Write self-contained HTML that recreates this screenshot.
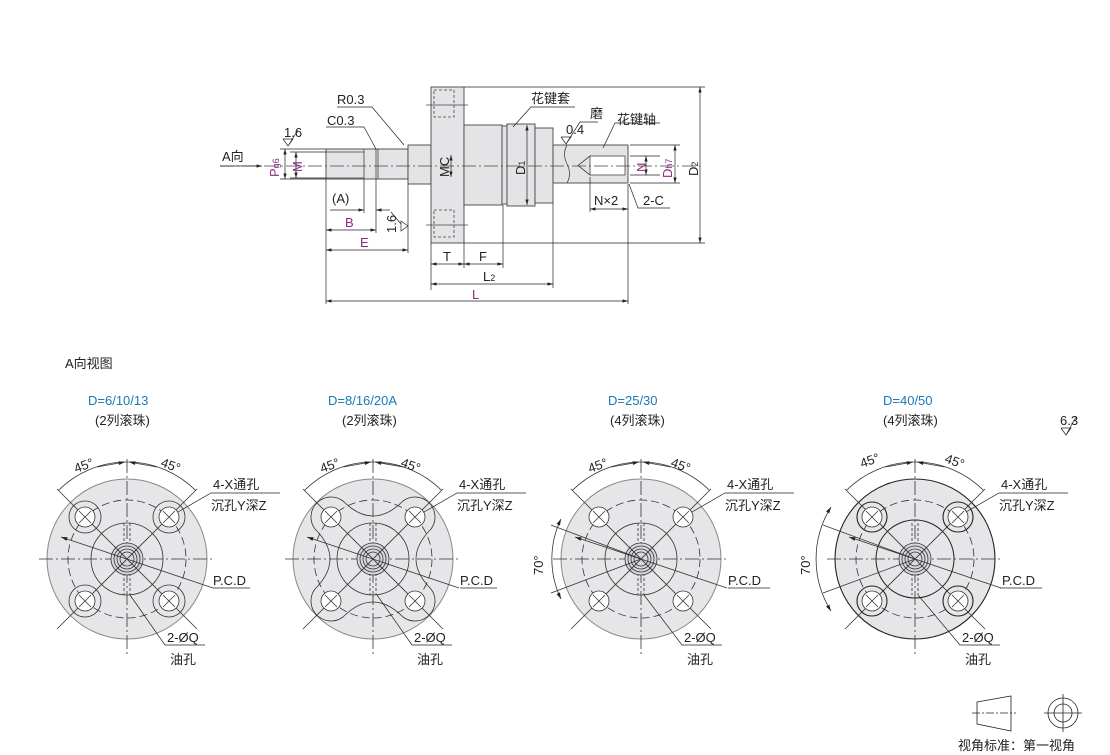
<!DOCTYPE html>
<html><head><meta charset="utf-8"><style>
html,body{margin:0;padding:0;background:#fff}
svg{display:block}
text{font-family:"Liberation Sans","Noto Sans CJK SC",sans-serif;fill:#222;font-size:13px}
.p{fill:#8b2a7f}.b{fill:#1a78b8}
</style></head><body>
<svg width="1110" height="755" viewBox="0 0 1110 755" xmlns="http://www.w3.org/2000/svg">
<defs>
<marker id="ar" viewBox="0 0 10 6" refX="10" refY="3" markerWidth="8" markerHeight="5" orient="auto-start-reverse"><path d="M0,0L10,3L0,6z" fill="#222"/></marker>
<g id="base">
<circle r="80" fill="#e6e6e9" stroke="#888" stroke-width="1"/>
</g>
<g id="common" stroke="#333" stroke-width="0.8" fill="none">
<line x1="-88" y1="0" x2="88" y2="0" stroke-dasharray="14,3,2,3"/>
<line x1="0" y1="-100" x2="0" y2="95" stroke-dasharray="14,3,2,3"/>
<circle r="59" stroke-dasharray="8,4"/>
<line x1="-3" y1="-36" x2="-3" y2="36" stroke-dasharray="3,2"/>
<line x1="3" y1="-36" x2="3" y2="36" stroke-dasharray="3,2"/>
<circle r="16" fill="#d8d8dc"/><circle r="13"/><circle r="10"/><circle r="7"/>
<line x1="-70" y1="-70" x2="70" y2="70"/><line x1="70" y1="-70" x2="-70" y2="70"/>
<path d="M-68.6,-68.6 A97,97 0 0 1 68.6,-68.6"/>
<line x1="-2" y1="-97" x2="-30" y2="-92" marker-start="url(#ar)"/>
<line x1="2" y1="-97" x2="30" y2="-92" marker-start="url(#ar)"/>
<line x1="-66" y1="-22" x2="-30" y2="-10" marker-start="url(#ar)"/>
<line x1="-30" y1="-10" x2="86" y2="29"/>
</g>
<g id="h" stroke="#333" stroke-width="0.8"><circle r="16" fill="none"/><circle r="10" fill="#fff"/><line x1="-6" y1="-6" x2="6" y2="6"/><line x1="6" y1="-6" x2="-6" y2="6"/></g>
<g id="h2" stroke="#333" stroke-width="0.8"><circle r="10" fill="#fff"/><line x1="-6" y1="-6" x2="6" y2="6"/><line x1="6" y1="-6" x2="-6" y2="6"/></g>
</defs>

<!-- TOP DRAWING -->
<g stroke="#444" stroke-width="0.9" fill="#e4e4e6">
<rect x="326" y="149" width="82" height="30"/>
<rect x="408" y="145" width="23" height="39"/>
<rect x="431" y="87" width="33" height="156"/>
<rect x="464" y="125" width="38" height="80"/>
<rect x="502" y="126" width="5" height="78"/>
<rect x="507" y="124" width="28" height="82"/>
<rect x="535" y="128" width="18" height="75"/>
<rect x="553" y="145" width="75" height="38"/>
</g>
<g stroke="#444" stroke-width="0.8" fill="none">
<line x1="326" y1="152" x2="364" y2="152"/><line x1="326" y1="178" x2="364" y2="178"/>
<line x1="364" y1="149" x2="364" y2="179"/><line x1="376" y1="149" x2="376" y2="179"/><line x1="378" y1="149" x2="378" y2="179"/>
<path d="M567,145 q-5,9 0,19 q5,10 0,19" fill="#e4e4e6"/>
<rect x="590" y="156" width="35" height="19" fill="#fff"/>
<path d="M590,156 L578,165.5 L590,175"/>
<path d="M434,90h20v27h-20z M434,210h20v27h-20z" stroke-dasharray="3,2"/>
<line x1="426" y1="105" x2="468" y2="105"/><line x1="426" y1="225" x2="468" y2="225"/>
<line x1="220" y1="166" x2="700" y2="166" stroke-dasharray="14,3,2,3"/>
</g>
<g stroke="#222" stroke-width="0.7" fill="none">
<line x1="220" y1="166" x2="262" y2="166" marker-end="url(#ar)"/>
<line x1="280" y1="149" x2="326" y2="149"/><line x1="280" y1="179" x2="326" y2="179"/>
<line x1="285" y1="149" x2="285" y2="179" marker-start="url(#ar)" marker-end="url(#ar)"/>
<line x1="296" y1="152" x2="296" y2="178" marker-start="url(#ar)" marker-end="url(#ar)"/>
<line x1="290" y1="152" x2="326" y2="152"/><line x1="290" y1="178" x2="326" y2="178"/>
<path d="M283,139 h10 l-5,7 l-5,-7 M288,146 l10,-16"/>
<path d="M326,127 h38 l12,22" /><path d="M337,107 h35 l32,38"/>
<line x1="451" y1="155" x2="451" y2="177" marker-start="url(#ar)" marker-end="url(#ar)"/>
<line x1="527" y1="125" x2="527" y2="205" marker-start="url(#ar)" marker-end="url(#ar)"/>
<path d="M575,107 h-44 l-18,20"/>
<path d="M561,137 h10 l-5,7 l-5,-7 M566,144 l14,-22 h18"/>
<path d="M660,123 h-45 l-12,25"/>
<line x1="630" y1="156" x2="660" y2="156"/><line x1="630" y1="175" x2="660" y2="175"/>
<line x1="646" y1="156" x2="646" y2="175" marker-start="url(#ar)" marker-end="url(#ar)"/>
<line x1="630" y1="145" x2="680" y2="145"/><line x1="630" y1="183" x2="680" y2="183"/>
<line x1="675" y1="145" x2="675" y2="183" marker-start="url(#ar)" marker-end="url(#ar)"/>
<line x1="464" y1="87" x2="705" y2="87"/><line x1="464" y1="243" x2="705" y2="243"/>
<line x1="700" y1="87" x2="700" y2="243" marker-start="url(#ar)" marker-end="url(#ar)"/>
<line x1="590" y1="177" x2="590" y2="212"/><line x1="628" y1="184" x2="628" y2="304"/>
<line x1="590" y1="209" x2="628" y2="209" marker-start="url(#ar)" marker-end="url(#ar)"/>
<path d="M670,208 h-32 l-9,-24"/>
<line x1="326" y1="179" x2="326" y2="304"/><line x1="364" y1="179" x2="364" y2="213"/>
<line x1="376" y1="179" x2="376" y2="233"/><line x1="408" y1="184" x2="408" y2="253"/>
<line x1="431" y1="243" x2="431" y2="290"/><line x1="464" y1="243" x2="464" y2="268"/>
<line x1="503" y1="205" x2="503" y2="268"/><line x1="553" y1="203" x2="553" y2="288"/>
<line x1="330" y1="210" x2="364" y2="210" marker-end="url(#ar)"/><line x1="376" y1="210" x2="390" y2="210" marker-start="url(#ar)"/>
<line x1="326" y1="230" x2="376" y2="230" marker-start="url(#ar)" marker-end="url(#ar)"/>
<path d="M408,226 l-7,-5 v10 z M401,224 l-10,-12"/>
<line x1="326" y1="250" x2="408" y2="250" marker-start="url(#ar)" marker-end="url(#ar)"/>
<line x1="431" y1="264" x2="464" y2="264" marker-start="url(#ar)" marker-end="url(#ar)"/>
<line x1="464" y1="264" x2="503" y2="264" marker-start="url(#ar)" marker-end="url(#ar)"/>
<line x1="431" y1="284" x2="553" y2="284" marker-start="url(#ar)" marker-end="url(#ar)"/>
<line x1="326" y1="301" x2="628" y2="301" marker-start="url(#ar)" marker-end="url(#ar)"/>
</g>
<text x="222" y="161">A向</text>
<text class="p" transform="translate(279,177) rotate(-90)">P<tspan font-size="9" dy="-0">g6</tspan></text>
<text class="p" transform="translate(302,172) rotate(-90)">M</text>
<text x="284" y="137" font-size="9">1.6</text>
<text x="327" y="125">C0.3</text>
<text x="337" y="104">R0.3</text>
<text transform="translate(449,177) rotate(-90)" font-size="12">MC</text>
<text transform="translate(525,175) rotate(-90)">D<tspan font-size="9">1</tspan></text>
<text x="531" y="103">花键套</text>
<text x="566" y="134" font-size="9">0.4</text>
<text x="590" y="118">磨</text>
<text x="617" y="124">花键轴</text>
<text class="p" transform="translate(646,172) rotate(-90)">N</text>
<text class="p" transform="translate(672,178) rotate(-90)">D<tspan font-size="9" fill="#8b2a7f">h7</tspan></text>
<text transform="translate(698,176) rotate(-90)">D<tspan font-size="9">2</tspan></text>
<text x="594" y="205">N×2</text>
<text x="643" y="205">2-C</text>
<text x="332" y="203">(A)</text>
<text class="p" x="345" y="227">B</text>
<text font-size="9" transform="translate(396,233) rotate(-90)">1.6</text>
<text class="p" x="360" y="247">E</text>
<text x="443" y="261">T</text>
<text x="479" y="261">F</text>
<text x="483" y="281">L<tspan font-size="9">2</tspan></text>
<text class="p" x="472" y="299">L</text>

<text x="65" y="368">A向视图</text>

<!-- VIEW 1 -->
<g transform="translate(127,559)">
<use href="#base"/><circle r="36" fill="none" stroke="#333" stroke-width="0.8"/><use href="#common"/>
<use href="#h" x="-42" y="-42"/><use href="#h" x="42" y="-42"/><use href="#h" x="-42" y="42"/><use href="#h" x="42" y="42"/>
</g>
<!-- VIEW 2 -->
<g transform="translate(373,559)">
<use href="#base"/>
<path d="M-58,-30 A20,20 0 0 1 -30,-58 Q0,-28 30,-58 A20,20 0 0 1 58,-30 Q28,0 58,30 A20,20 0 0 1 30,58 Q0,28 -30,58 A20,20 0 0 1 -58,30 Q-28,0 -58,-30 Z" fill="none" stroke="#333" stroke-width="0.8"/>
<circle r="36" fill="none" stroke="#333" stroke-width="0.8"/><use href="#common"/>
<use href="#h2" x="-42" y="-42"/><use href="#h2" x="42" y="-42"/><use href="#h2" x="-42" y="42"/><use href="#h2" x="42" y="42"/>
</g>
<!-- VIEW 3 -->
<g transform="translate(641,559)">
<use href="#base"/><circle r="36" fill="none" stroke="#333" stroke-width="0.8"/><use href="#common"/>
<use href="#h2" x="-42" y="-42"/><use href="#h2" x="42" y="-42"/><use href="#h2" x="-42" y="42"/><use href="#h2" x="42" y="42"/>
<g stroke="#333" stroke-width="0.8" fill="none">
<line x1="-90" y1="-34" x2="0" y2="0"/><line x1="-90" y1="34" x2="0" y2="0"/>
<path d="M-80,-40 A92,92 0 0 0 -80,40" marker-start="url(#ar)" marker-end="url(#ar)"/>
</g>
</g>
<!-- VIEW 4 -->
<g transform="translate(915,559)">
<circle r="80" fill="#e6e6e9" stroke="#222" stroke-width="1.1"/>
<circle r="39" fill="none" stroke="#222" stroke-width="1"/><use href="#common"/>
<g stroke="#222" stroke-width="1.1" fill="none"><circle cx="-43" cy="-42" r="15"/><circle cx="43" cy="-42" r="15"/><circle cx="-43" cy="42" r="15"/><circle cx="43" cy="42" r="15"/></g>
<use href="#h2" x="-43" y="-42"/><use href="#h2" x="43" y="-42"/><use href="#h2" x="-43" y="42"/><use href="#h2" x="43" y="42"/>
<g stroke="#333" stroke-width="0.8" fill="none">
<line x1="-92" y1="-34" x2="0" y2="0"/><line x1="-92" y1="34" x2="0" y2="0"/>
<path d="M-84,-52 A98,98 0 0 0 -84,52" marker-start="url(#ar)" marker-end="url(#ar)"/>
</g>
</g>

<!-- leaders for labels -->
<g stroke="#222" stroke-width="0.7" fill="none">
<path d="M280,493 h-69 l-33,19"/><path d="M250,588 h-37"/><path d="M205,645 h-40 l-35,-50"/>
<path d="M526,493 h-69 l-33,19"/><path d="M497,588 h-37"/><path d="M452,645 h-40 l-35,-50"/>
<path d="M794,493 h-69 l-33,19"/><path d="M770,588 h-42"/><path d="M722,645 h-40 l-38,-50"/>
<path d="M1068,493 h-69 l-33,19"/><path d="M1042,588 h-42"/><path d="M1000,645 h-40 l-42,-50"/>
</g>

<text class="b" x="88" y="405">D=6/10/13</text><text x="95" y="425">(2列滚珠)</text>
<text class="b" x="328" y="405">D=8/16/20A</text><text x="342" y="425">(2列滚珠)</text>
<text class="b" x="608" y="405">D=25/30</text><text x="610" y="425">(4列滚珠)</text>
<text class="b" x="883" y="405">D=40/50</text><text x="883" y="425">(4列滚珠)</text>

<g font-size="13">
<text transform="translate(76,473) rotate(-20)">45°</text><text transform="translate(160,466) rotate(20)">45°</text>
<text transform="translate(322,473) rotate(-20)">45°</text><text transform="translate(400,466) rotate(20)">45°</text>
<text transform="translate(590,473) rotate(-20)">45°</text><text transform="translate(670,466) rotate(20)">45°</text>
<text transform="translate(862,468) rotate(-20)">45°</text><text transform="translate(944,462) rotate(20)">45°</text>
<text transform="translate(543,575) rotate(-90)">70°</text>
<text transform="translate(810,575) rotate(-90)">70°</text>
</g>

<text x="213" y="489">4-X通孔</text><text x="211" y="510">沉孔Y深Z</text><text x="213" y="585">P.C.D</text><text x="167" y="642">2-ØQ</text><text x="170" y="664">油孔</text>
<text x="459" y="489">4-X通孔</text><text x="457" y="510">沉孔Y深Z</text><text x="460" y="585">P.C.D</text><text x="414" y="642">2-ØQ</text><text x="417" y="664">油孔</text>
<text x="727" y="489">4-X通孔</text><text x="725" y="510">沉孔Y深Z</text><text x="728" y="585">P.C.D</text><text x="684" y="642">2-ØQ</text><text x="687" y="664">油孔</text>
<text x="1001" y="489">4-X通孔</text><text x="999" y="510">沉孔Y深Z</text><text x="1002" y="585">P.C.D</text><text x="962" y="642">2-ØQ</text><text x="965" y="664">油孔</text>

<text x="1060" y="425" font-size="8">6.3</text>
<path d="M1061,428 h10 l-5,7 l-5,-7 M1066,435 l10,-18" stroke="#222" stroke-width="0.7" fill="none"/>

<g stroke="#222" stroke-width="0.8" fill="none">
<path d="M977,702 L1011,696 V731 L977,724 Z"/>
<line x1="972" y1="713" x2="1016" y2="713" stroke-dasharray="8,2,2,2"/>
<circle cx="1063" cy="713" r="15"/><circle cx="1063" cy="713" r="9"/>
<line x1="1044" y1="713" x2="1082" y2="713"/><line x1="1063" y1="694" x2="1063" y2="732"/>
</g>
<text x="958" y="750" font-size="14">视角标准：第一视角</text>
</svg>
</body></html>
